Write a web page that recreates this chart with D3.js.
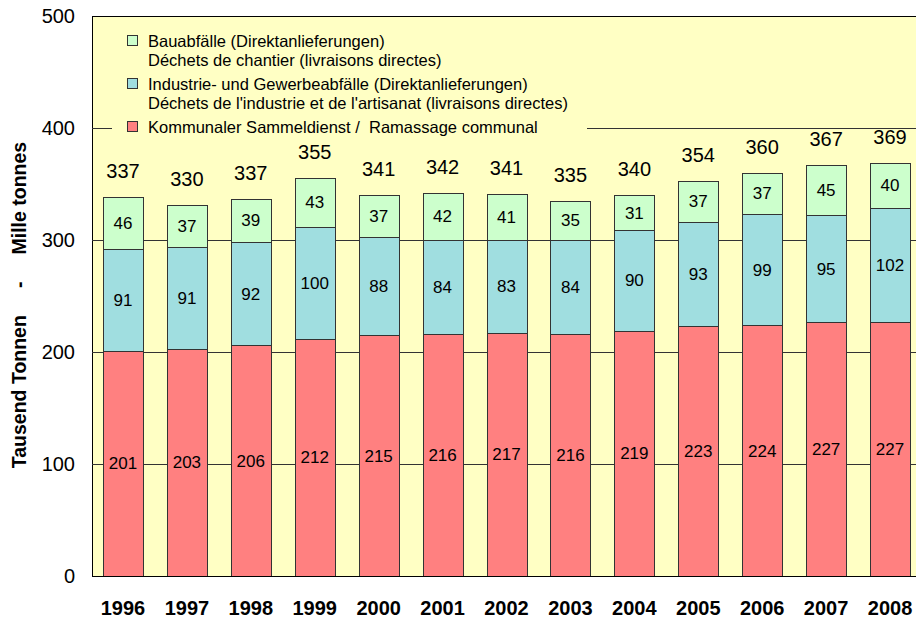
<!DOCTYPE html>
<html>
<head>
<meta charset="utf-8">
<script src="https://cdn.jsdelivr.net/npm/d3@7"></script>
<style>
  body { margin: 0; background: #fff; }
  svg { font-family: "Liberation Sans", Arial, sans-serif; display: block; }
</style>
</head>
<body>
<div id="chart"></div>
<script>
const width = 916;
const height = 619;
const margin = { top: 16, left: 92, bottom: 43 };
const plotRight = 923;

// data
const years = ["1996", "1997", "1998", "1999", "2000", "2001", "2002", "2003", "2004", "2005", "2006", "2007", "2008"];
const kommunal = [201, 203, 206, 212, 215, 216, 217, 216, 219, 223, 224, 227, 227];
const industrie = [91, 91, 92, 100, 88, 84, 83, 84, 90, 93, 99, 95, 102];
const bau = [46, 37, 39, 43, 37, 42, 41, 35, 31, 37, 37, 45, 40];
const totals = [337, 330, 337, 355, 341, 342, 341, 335, 340, 354, 360, 367, 369];
const yTicks = [0, 100, 200, 300, 400, 500];

const seriesKeys = ["kommunal", "industrie", "bau"];
const colors = { kommunal: "#FF8080", industrie: "#A0DEE0", bau: "#CCFFCC" };
const legendItems = [
  { key: "bau", lines: ["Bauabfälle (Direktanlieferungen)", "Déchets de chantier (livraisons directes)"] },
  { key: "industrie", lines: ["Industrie- und Gewerbeabfälle (Direktanlieferungen)", "Déchets de l'industrie et de l'artisanat (livraisons directes)"] },
  { key: "kommunal", lines: ["Kommunaler Sammeldienst /  Ramassage communal"] }
];

const table = years.map((y, i) => ({ year: y, kommunal: kommunal[i], industrie: industrie[i], bau: bau[i], total: totals[i] }));

const svg = d3.select("#chart").append("svg")
  .attr("width", width)
  .attr("height", height);

const x = d3.scaleBand()
  .domain(years)
  .range([91, 922])
  .paddingInner(0.375)
  .paddingOuter(0.1875);

const y = d3.scaleLinear()
  .domain([0, 500])
  .range([height - margin.bottom, margin.top]);

// plot background
svg.append("rect")
  .attr("x", margin.left + 0.5)
  .attr("y", margin.top + 0.5)
  .attr("width", plotRight - margin.left)
  .attr("height", y(0) - margin.top)
  .attr("fill", "#FFFFC4")
  .attr("stroke", "#000")
  .attr("stroke-width", 1);

// gridlines
svg.append("g")
  .selectAll("line")
  .data(yTicks.filter(d => d > 0 && d < 500))
  .join("line")
  .attr("x1", margin.left)
  .attr("x2", plotRight)
  .attr("y1", d => Math.round(y(d)) + 0.5)
  .attr("y2", d => Math.round(y(d)) + 0.5)
  .attr("stroke", "#333")
  .attr("stroke-width", 1);

// legend (covers the 400 gridline)
const legend = svg.append("g");
legend.append("rect")
  .attr("x", 112)
  .attr("y", 26)
  .attr("width", 475)
  .attr("height", 112)
  .attr("fill", "#FFFFC4");

const lineH = 19;
let ly = 41;
legendItems.forEach(item => {
  legend.append("rect")
    .attr("x", 127.5)
    .attr("y", ly - 5.5)
    .attr("width", 10)
    .attr("height", 10)
    .attr("fill", colors[item.key])
    .attr("stroke", "#333")
    .attr("stroke-width", 1);
  item.lines.forEach((t, j) => {
    legend.append("text")
      .attr("x", 148)
      .attr("y", ly + j * lineH)
      .attr("dy", "0.35em")
      .attr("font-size", 16.5)
      .attr("fill", "#000")
      .attr("xml:space", "preserve")
      .style("white-space", "pre")
      .text(t);
  });
  ly += item.lines.length * lineH + 5;
});

// stacked bars
const stack = d3.stack().keys(seriesKeys)(table);

const layers = svg.append("g")
  .selectAll("g")
  .data(stack)
  .join("g")
  .attr("fill", d => colors[d.key]);

layers.selectAll("rect")
  .data(d => d)
  .join("rect")
  .attr("x", d => Math.round(x(d.data.year)) + 0.5)
  .attr("y", d => Math.round(y(d[1])) + 0.5)
  .attr("width", Math.round(x.bandwidth()))
  .attr("height", d => Math.round(y(d[0])) - Math.round(y(d[1])))
  .attr("stroke", "#333")
  .attr("stroke-width", 1);

layers.selectAll("text")
  .data(d => d)
  .join("text")
  .attr("x", d => x(d.data.year) + x.bandwidth() / 2)
  .attr("y", d => y((d[0] + d[1]) / 2))
  .attr("dy", "0.35em")
  .attr("text-anchor", "middle")
  .attr("font-size", 17)
  .attr("fill", "#000")
  .text(d => d[1] - d[0]);

// totals
svg.append("g")
  .selectAll("text")
  .data(table)
  .join("text")
  .attr("x", d => x(d.year) + x.bandwidth() / 2)
  .attr("y", d => y(d.kommunal + d.industrie + d.bau) - 26)
  .attr("dy", "0.35em")
  .attr("text-anchor", "middle")
  .attr("font-size", 20)
  .attr("fill", "#000")
  .text(d => d.total);

// axes
const yAxis = d3.axisLeft(y).tickValues(yTicks).tickSize(0).tickPadding(17);
svg.append("g")
  .attr("transform", "translate(" + margin.left + ",0)")
  .call(yAxis)
  .call(g => g.select(".domain").remove())
  .selectAll("text")
  .attr("font-size", 20)
  .attr("font-family", "Liberation Sans, Arial, sans-serif")
  .attr("fill", "#000");

const xAxis = d3.axisBottom(x).tickSize(0).tickPadding(25);
svg.append("g")
  .attr("transform", "translate(0," + y(0) + ")")
  .call(xAxis)
  .call(g => g.select(".domain").remove())
  .selectAll("text")
  .attr("font-size", 20)
  .attr("font-weight", "bold")
  .attr("font-family", "Liberation Sans, Arial, sans-serif")
  .attr("fill", "#000");

// baseline
svg.append("line")
  .attr("x1", margin.left)
  .attr("x2", plotRight)
  .attr("y1", Math.round(y(0)) + 0.5)
  .attr("y2", Math.round(y(0)) + 0.5)
  .attr("stroke", "#000");

// y title
svg.append("text")
  .attr("transform", "translate(26,305) rotate(-90)")
  .attr("text-anchor", "middle")
  .attr("font-size", 19.5)
  .attr("font-weight", "bold")
  .attr("xml:space", "preserve")
  .style("white-space", "pre")
  .text("Tausend Tonnen     -     Mille tonnes");
</script>
</body>
</html>
